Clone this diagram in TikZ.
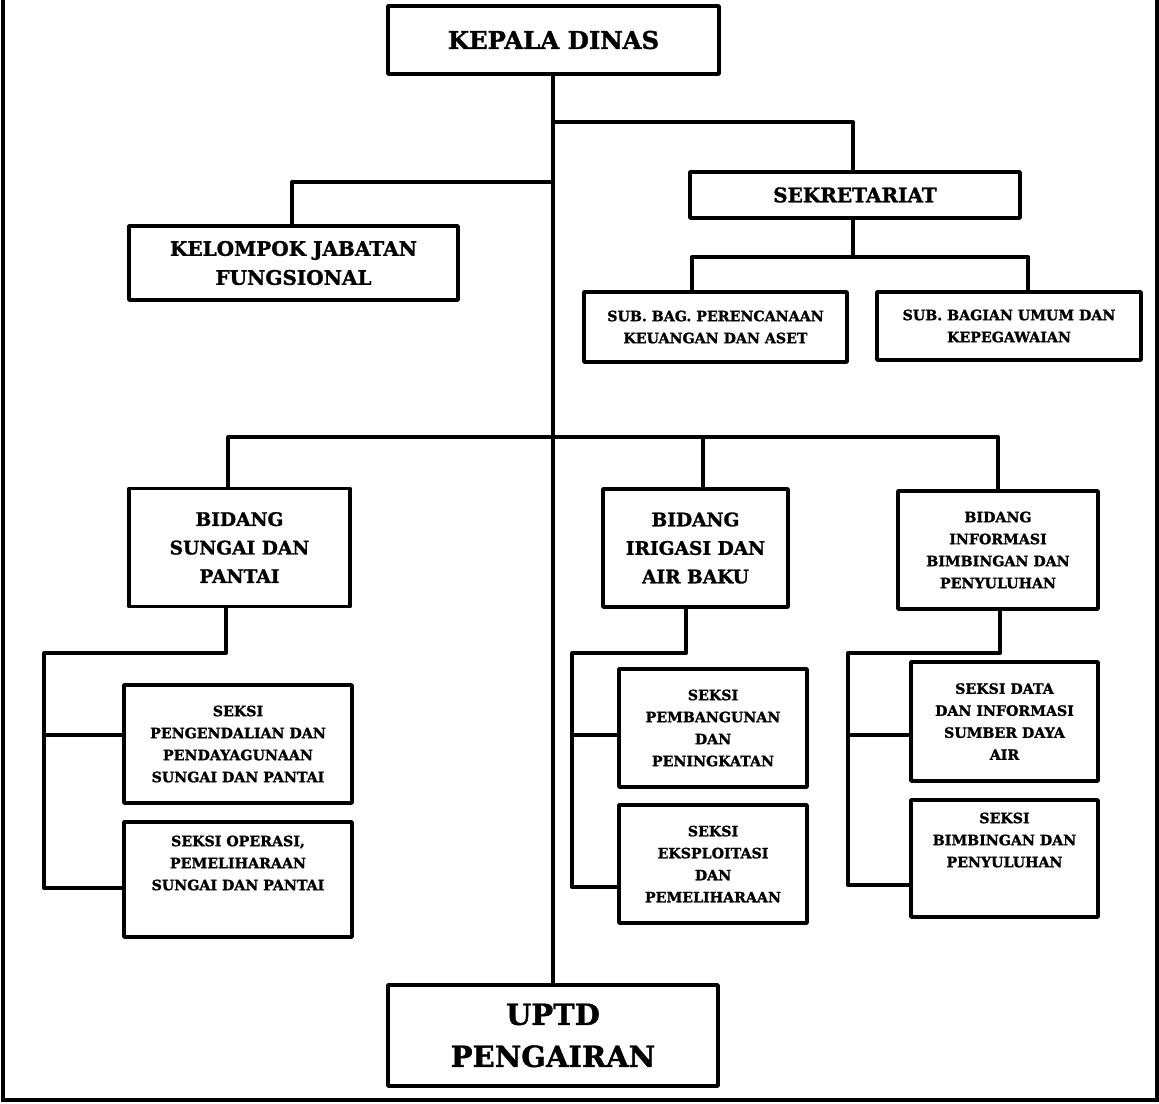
\documentclass[tikz,border=0pt]{standalone}
\usepackage{fontspec}
\setmainfont{DejaVu Serif}[BoldFeatures={FakeBold=1.4}]
\begin{document}
\begin{tikzpicture}[x=1pt,y=-1pt,
  box/.style={draw,line width=3.6pt,line join=round,align=center,inner sep=0pt},
  sml/.style={align=center,font=\bfseries\fontsize{14.2}{22}\selectfont},
  mid/.style={align=center,font=\bfseries\fontsize{18.6}{28.5}\selectfont},
  upr/.style={align=center,font=\bfseries\fontsize{20}{29}\selectfont},
  big/.style={align=center,font=\bfseries\fontsize{24.4}{30}\selectfont},
  huge/.style={align=center,font=\bfseries\fontsize{29}{42}\selectfont},
  link/.style={line width=4pt,line join=round}]
\useasboundingbox (0,0) rectangle (1159,1103);
\draw[line width=4pt] (3,-2) -- (3,1100) -- (1157,1100) -- (1157,-2);
% top level
\node[box,big,minimum width=331pt,minimum height=68pt] (kepala) at (553.5,40) {KEPALA DINAS};
\node[box,upr,minimum width=329pt,minimum height=74pt] (kjf) at (293.5,263) {KELOMPOK JABATAN\\FUNGSIONAL};
\node[box,upr,minimum width=330pt,minimum height=46pt] (sekre) at (855,195) {SEKRETARIAT};
\node[box,sml,minimum width=263pt,minimum height=70pt] (subrenc) at (715.5,327) {SUB. BAG. PERENCANAAN\\KEUANGAN DAN ASET};
\node[box,sml,minimum width=264pt,minimum height=68pt] (subumum) at (1009,326) {SUB. BAGIAN UMUM DAN\\KEPEGAWAIAN};
% bidang
\node[box,mid,minimum width=221pt,minimum height=118pt] (bsungai) at (239.5,547.5) {BIDANG\\SUNGAI DAN\\PANTAI};
\node[box,mid,minimum width=185pt,minimum height=118pt] (birigasi) at (695.5,548) {BIDANG\\IRIGASI DAN\\AIR BAKU};
\node[box,sml,minimum width=200pt,minimum height=118pt] (binfo) at (998,550) {BIDANG\\INFORMASI\\BIMBINGAN DAN\\PENYULUHAN};
% seksi
\node[box,sml,minimum width=228pt,minimum height=118pt] (spengend) at (238,744) {SEKSI\\PENGENDALIAN DAN\\PENDAYAGUNAAN\\SUNGAI DAN PANTAI};
\node[box,minimum width=228pt,minimum height=115pt] (soperasi) at (238,879.5) {};
\node[sml] at (238,863) {SEKSI OPERASI,\\PEMELIHARAAN\\SUNGAI DAN PANTAI};
\node[box,sml,minimum width=188pt,minimum height=118pt] (spemb) at (713,728) {SEKSI\\PEMBANGUNAN\\DAN\\PENINGKATAN};
\node[box,sml,minimum width=188pt,minimum height=118pt] (seksploit) at (713,864) {SEKSI\\EKSPLOITASI\\DAN\\PEMELIHARAAN};
\node[box,sml,minimum width=187pt,minimum height=119pt] (sdata) at (1004.5,721.5) {SEKSI DATA\\DAN INFORMASI\\SUMBER DAYA\\AIR};
\node[box,minimum width=187pt,minimum height=117pt] (sbimb) at (1004.5,858.5) {};
\node[sml] at (1004.5,840) {SEKSI\\BIMBINGAN DAN\\PENYULUHAN};
\node[box,huge,minimum width=330pt,minimum height=101pt] (uptd) at (553,1035.5) {UPTD\\PENGAIRAN};
% lines
\coordinate (j1) at (553,122);\coordinate (j2) at (553,182);\coordinate (j3) at (853,257);\coordinate (j4) at (553,437);
\draw[link] (uptd.north |- kepala.south) -- (uptd.north);
\draw[link] (j1) -| (853,0 |- sekre.north);\draw[link] (j2) -| (292,0 |- kjf.north);
\draw[link] (sekre.south -| j3) -- (j3);
\draw[link] (692,0 |- subrenc.north) |- (j3) -| (1028,0 |- subumum.north);
\draw[link] (228,0 |- bsungai.north) |- (j4) -| (binfo.north);\draw[link] (j4) -| (703,0 |- birigasi.north);
\draw[link] (226,0 |- bsungai.south) |- (44,653) |- (soperasi.west |- 0,888);\draw[link] (44,735) -- (spengend.west |- 0,735);
\draw[link] (686,0 |- birigasi.south) |- (572,653) |- (seksploit.west |- 0,887);\draw[link] (572,735) -- (spemb.west |- 0,735);
\draw[link] (1000,0 |- binfo.south) |- (848,653) |- (sbimb.west |- 0,885);\draw[link] (848,735) -- (sdata.west |- 0,735);
\end{tikzpicture}
\end{document}
